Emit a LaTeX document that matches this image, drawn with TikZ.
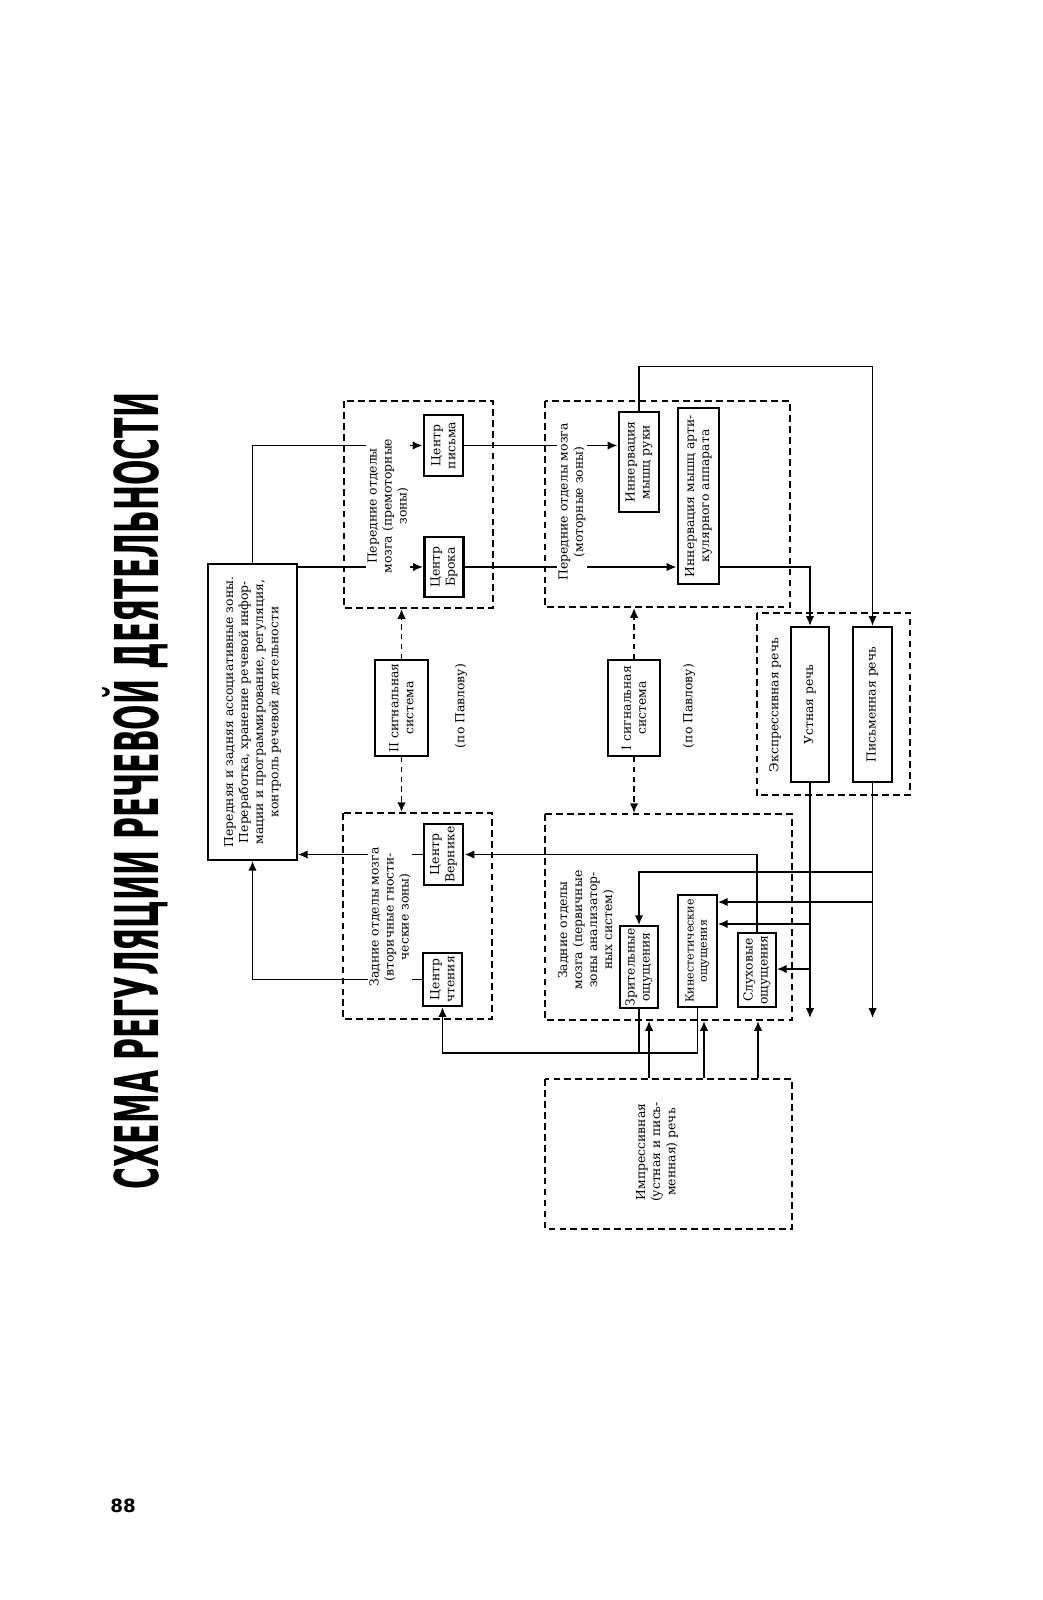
\documentclass[tikz,border=0pt]{standalone}
\usepackage{fontspec}
\setmainfont{DejaVu Serif}
\newfontfamily\headfont{DejaVu Sans}
\usetikzlibrary{arrows.meta}
\begin{document}
\begin{tikzpicture}[x=0.025cm, y=-0.025cm, >={Latex[length=7pt,width=6pt]},
  font=\fontsize{8.8}{10.7}\selectfont,
  dims/.style 2 args={minimum width=#1*0.025cm, minimum height=#2*0.025cm},
  blk/.style={draw, rotate=90, line width=1.2pt, align=center, inner sep=1pt, fill=white},
  ctr/.style={blk, line width=2.1pt},
  zone/.style={draw, rotate=90, dash pattern=on 4.8pt off 3pt, line width=1.3pt},
  lbl/.style={rotate=90, align=center, inner sep=1pt},
  wire/.style={line width=1.2pt},
  sig/.style={wire, dash pattern=on 4pt off 3pt}]
\useasboundingbox (0,0) rectangle (1042,1600);
\node[rotate=90, anchor=base, font=\headfont\bfseries] (T) at (158,791) {\resizebox{19.9cm}{1.4cm}{СХЕМА РЕГУЛЯЦИИ РЕЧЕВОЙ ДЕЯТЕЛЬНОСТИ}};
\node[font=\headfont\bfseries\fontsize{13}{13}\selectfont] (N) at (123,1506) {88};
\node[zone, dims={207}{149}] (A) at (418.5,504.5) {};
\node[zone, dims={206}{245}] (B) at (667.5,504) {};
\node[zone, dims={206}{149}] (C) at (417.5,916) {};
\node[zone, dims={206}{247}] (D) at (668.5,917) {};
\node[zone, dims={182}{153}] (E) at (833.5,704) {};
\node[zone, dims={150}{247}] (Im) at (668.5,1154) {};
\node[blk, dims={296}{89}] (M) at (252.5,712) {Передняя и задняя ассоциативные зоны.\\Переработка, хранение речевой инфор-\\мации и программирование, регуляция,\\контроль речевой деятельности};
\node[ctr, dims={61}{39}] (Wr) at (443.5,445.5) {Центр\\письма};
\node[ctr, dims={60}{39}] (Br) at (444,567) {Центр\\Брока};
\node[ctr, dims={61}{39}] (We) at (443.5,854.5) {Центр\\Вернике};
\node[blk, dims={53}{39}, line width=1.6pt] (Rd) at (442.5,979.5) {Центр\\чтения};
\node[ctr, dims={100}{40}] (Hn) at (639,462) {Иннервация\\мышц руки};
\node[ctr, dims={176}{41}] (Ar) at (698.5,496) {Иннервация мышц арти-\\кулярного аппарата};
\node[blk, dims={96}{53}] (S2) at (401.5,708) {II сигнальная\\система};
\node[blk, dims={96}{52}] (S1) at (634,708) {I сигнальная\\система};
\node[blk, dims={155}{38}, line width=1.5pt] (Or) at (810,704.5) {Устная речь};
\node[blk, dims={155}{39}, line width=1.5pt] (Wt) at (872.5,704.5) {Письменная речь};
\node[blk, dims={82}{38}] (Vi) at (639,967) {Зрительные\\ощущения};
\node[blk, dims={112}{39}, font=\fontsize{7.9}{9.4}\selectfont] (Ki) at (697.5,951) {Кинестетические\\ощущения};
\node[blk, dims={74}{38}] (Au) at (757,970) {Слуховые\\ощущения};
\draw[wire, ->] (M.east) |- (Wr.north);
\draw[wire, ->] (M.south |- Br) -- (Br.north);
\draw[wire, ->] (Wr.south) -- (Wr.south -| Hn.north);
\draw[wire, ->] (Br.south) -- (Br.south -| Ar.north);
\draw[wire, ->] (Hn.east) -- ++(0,-44) -| (Wt.east);
\draw[wire, ->] (Br.south -| Ar.south) -| (Or.east);
\draw[wire, ->] (Or.west) -- ++(0,235);
\draw[wire, ->] (Wt.west) -- ++(0,235);
\draw[wire, ->] (Wt.center |- 0,872) -| (Vi.east);
\draw[wire, ->] (Wt.center |- 0,902) -- (Ki.south |- 0,902);
\draw[wire, ->] (Or.center |- 0,924) -- (Ki.south |- 0,924);
\draw[wire, ->] (Or.center |- 0,969) -- (Au.south |- 0,969);
\draw[wire, ->] (Au.east) |- (We.south);
\draw[wire, ->] (We.north) -- (We.north -| M.south);
\draw[wire, ->] (Rd.north) -| (M.west);
\draw[wire] (Vi.west) -- ++(0,44);
\draw[wire, ->] (Ki.west) -- ++(0,45) -| (Rd.west);
\foreach \x in {649,704,758} \draw[wire, ->] (\x,0 |- Im.east) -- (\x,0 |- D.west);
\draw[sig, ->] (S2.east) -- (S2.center |- A.west);
\draw[sig, ->] (S2.west) -- (S2.center |- C.east);
\draw[sig, ->] (S1.east) -- (S1.center |- B.west);
\draw[sig, ->] (S1.west) -- (S1.center |- D.east);
\node[lbl, fill=white] (LA) at (388,506) {Передние отделы\\мозга (премоторные\\зоны)};
\node[lbl, fill=white] (LB) at (572,502) {Передние отделы мозга\\(моторные зоны)};
\node[lbl, fill=white] (LC) at (390,917) {Задние отделы мозга\\(вторичные гности-\\ческие зоны)};
\node[lbl] (LD) at (586,930) {Задние отделы\\мозга (первичные\\зоны анализатор-\\ных систем)};
\node[lbl] (LE) at (775,705) {Экспрессивная речь};
\node[lbl] (P2) at (461,706) {(по Павлову)};
\node[lbl] (P1) at (689,706) {(по Павлову)};
\node[lbl] (LI) at (657,1152) {Импрессивная\\(устная и пись-\\менная) речь};
\end{tikzpicture}
\end{document}
